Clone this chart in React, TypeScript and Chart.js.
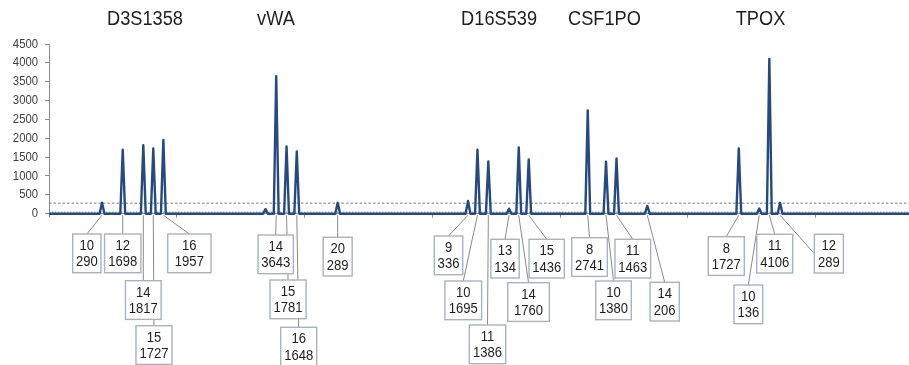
import React, { useEffect, useRef } from "react";
import { Chart, registerables } from "chart.js";

Chart.register(...registerables);

// ---- data ----
const yMax = 4500;
const yStep = 500;
const xMax = 673; // scan units, x-axis ticks every 100
const xStep = 100;

const lociNames = ["D3S1358", "vWA", "D16S539", "CSF1PO", "TPOX"];
const lociCenters = [75.1, 177.6, 352.2, 434.7, 556.8];

const peakX = [
  41.5, 57.7, 73.8, 81.6, 89.5,
  169.4, 177.8, 185.9, 193.9, 225.9,
  327.9, 335.3, 343.8, 360.0, 367.6, 375.4,
  421.6, 435.9, 444.1, 468.2,
  539.8, 555.8, 563.7, 572.1,
];
const peakHeight = [
  290, 1698, 1817, 1727, 1957,
  120, 3643, 1781, 1648, 289,
  336, 1695, 1386, 134, 1760, 1436,
  2741, 1380, 1463, 206,
  1727, 136, 4106, 289,
];
const peakAllele = [
  "10", "12", "14", "15", "16",
  "", "14", "15", "16", "20",
  "9", "10", "11", "13", "14", "15",
  "8", "10", "11", "14",
  "8", "10", "11", "12",
];
const stochasticThreshold = 280;
const noiseLevel = 40;

// ---- label box layout (pixel offsets from each peak / the baseline) ----
const labelDx = [
  -15.2, 0, 0, 0.7, 26,
  0, -0.5, 1.5, 1.9, 0,
  -19.5, -14.2, -0.8, -4, 9.8, 18,
  1.8, 7.5, 16.3, 17.4,
  -12.5, -10.9, 5.4, 48.8,
];
const labelTop = [
  20.3, 20.3, 67, 112, 20.3,
  0, 21.3, 66.3, 113.6, 23.6,
  22.3, 67.3, 111.3, 25.6, 69, 25.6,
  24, 67.3, 25.6, 68.6,
  23, 71.3, 20.6, 20.6,
];
const labelWidth = [
  28.3, 36.4, 35.7, 36, 43.3,
  0, 35.3, 36, 36, 29,
  28.4, 36.7, 36.4, 28.3, 41.6, 35.3,
  35.6, 35.6, 35.7, 29.3,
  36, 28.7, 36, 29,
];
const labelAttachLeft = [
  false, false, false, false, false,
  false, false, false, false, false,
  false, false, false, false, false, false,
  false, false, false, false,
  false, false, false, true,
];
const BOX_H = 38.7;
const PEAK_HALF_WIDTH = 1.9;
const FONT = "'Liberation Sans', Arial, sans-serif";

function drawText(ctx: CanvasRenderingContext2D, text: string, x: number, y: number, size: number, sx: number, align: CanvasTextAlign) {
  ctx.save();
  ctx.translate(x, y);
  ctx.scale(sx, 1);
  ctx.font = `${size}px ${FONT}`;
  ctx.textAlign = align;
  ctx.textBaseline = "middle";
  ctx.fillText(text, 0, 0);
  ctx.restore();
}

function buildTrace() {
  const order = peakX.map((_, i) => i).sort((a, b) => peakX[a] - peakX[b]);
  const pts: { x: number; y: number }[] = [{ x: 0, y: 0 }];
  order.forEach((i) => {
    pts.push({ x: peakX[i] - PEAK_HALF_WIDTH, y: 0 });
    pts.push({ x: peakX[i], y: peakHeight[i] });
    pts.push({ x: peakX[i] + PEAK_HALF_WIDTH, y: 0 });
  });
  pts.push({ x: xMax, y: 0 });
  return pts;
}

const labelPlugin = {
  id: "alleleLabels",
  afterDraw(chart: any) {
    const { ctx, scales } = chart;
    const xs = scales.x;
    const ys = scales.y;
    const base = ys.getPixelForValue(0);
    ctx.save();
    // y tick labels
    ctx.fillStyle = "#404040";
    ys.ticks.forEach((t: any) => {
      drawText(ctx, String(t.value), ys.right - 11, ys.getPixelForValue(t.value), 13, 0.87, "right");
    });
    // leader lines
    ctx.strokeStyle = "#8a8a8a";
    ctx.lineWidth = 1;
    peakX.forEach((v, i) => {
      if (!peakAllele[i]) return;
      const px = xs.getPixelForValue(v);
      const cx = px + labelDx[i];
      const top = base + labelTop[i];
      ctx.beginPath();
      ctx.moveTo(px, base + 1.5);
      if (labelAttachLeft[i]) ctx.lineTo(cx - labelWidth[i] / 2, top + BOX_H / 2);
      else ctx.lineTo(cx, top);
      ctx.stroke();
    });
    // boxes
    peakX.forEach((v, i) => {
      if (!peakAllele[i]) return;
      const px = xs.getPixelForValue(v);
      const cx = px + labelDx[i];
      const top = base + labelTop[i];
      const w = labelWidth[i];
      ctx.fillStyle = "#ffffff";
      ctx.fillRect(cx - w / 2, top, w, BOX_H);
      ctx.strokeStyle = "#a7b3be";
      ctx.lineWidth = 1.4;
      ctx.strokeRect(cx - w / 2, top, w, BOX_H);
      ctx.fillStyle = "#1e1e1e";
      drawText(ctx, peakAllele[i], cx, top + 11.8, 15, 0.87, "center");
      drawText(ctx, String(peakHeight[i]), cx, top + 28.3, 15, 0.87, "center");
    });
    // locus names
    ctx.fillStyle = "#1e1e1e";
    lociNames.forEach((n, i) => {
      drawText(ctx, n, xs.getPixelForValue(lociCenters[i]), 19, 20, 0.91, "center");
    });
    ctx.restore();
  },
};

export default function App() {
  const ref = useRef<HTMLCanvasElement | null>(null);
  useEffect(() => {
    document.body.style.margin = "0";
    const canvas = ref.current!;
    const chart = new Chart(canvas, {
      type: "line",
      data: {
        datasets: [
          {
            data: buildTrace(),
            borderColor: "#264a80",
            borderWidth: 2.4,
            borderJoinStyle: "round",
            pointRadius: 0,
            tension: 0,
            order: 0,
          } as any,
          {
            data: [
              { x: 0, y: noiseLevel },
              { x: xMax, y: noiseLevel },
            ],
            borderColor: "rgba(140,165,200,0.85)",
            borderWidth: 1.5,
            borderDash: [1.5, 1.5],
            pointRadius: 0,
            order: 1,
          },
          {
            data: [
              { x: 0, y: stochasticThreshold },
              { x: xMax, y: stochasticThreshold },
            ],
            borderColor: "#7a7a7a",
            borderWidth: 1,
            borderDash: [2.5, 2],
            pointRadius: 0,
            order: 2,
          },
        ],
      },
      options: {
        responsive: false,
        animation: false,
        clip: false as any,
        layout: { padding: { top: 44, bottom: 147.3, left: 0, right: 0 } },
        plugins: { legend: { display: false }, tooltip: { enabled: false } },
        scales: {
          x: {
            type: "linear",
            min: 0,
            max: xMax,
            ticks: { display: false, stepSize: xStep },
            grid: { drawOnChartArea: false, drawTicks: true, tickLength: 4, color: "#8c8c8c" },
            border: { display: true, color: "#8c8c8c" },
            afterFit: (s: any) => {
              s.height = 4;
            },
          },
          y: {
            min: 0,
            max: yMax,
            ticks: {
              display: false,
              stepSize: yStep,
              autoSkip: false,
            },
            grid: { drawOnChartArea: false, drawTicks: true, tickLength: 4, color: "#8c8c8c" },
            border: { display: true, color: "#8c8c8c" },
            afterFit: (s: any) => {
              s.width = 49;
            },
          },
        },
      },
      plugins: [labelPlugin],
    });
    return () => chart.destroy();
  }, []);
  return (
    <div style={{ position: "absolute", left: 0, top: 0, width: 909, height: 365, background: "#fff" }}>
      <canvas ref={ref} width={909} height={365} />
    </div>
  );
}
